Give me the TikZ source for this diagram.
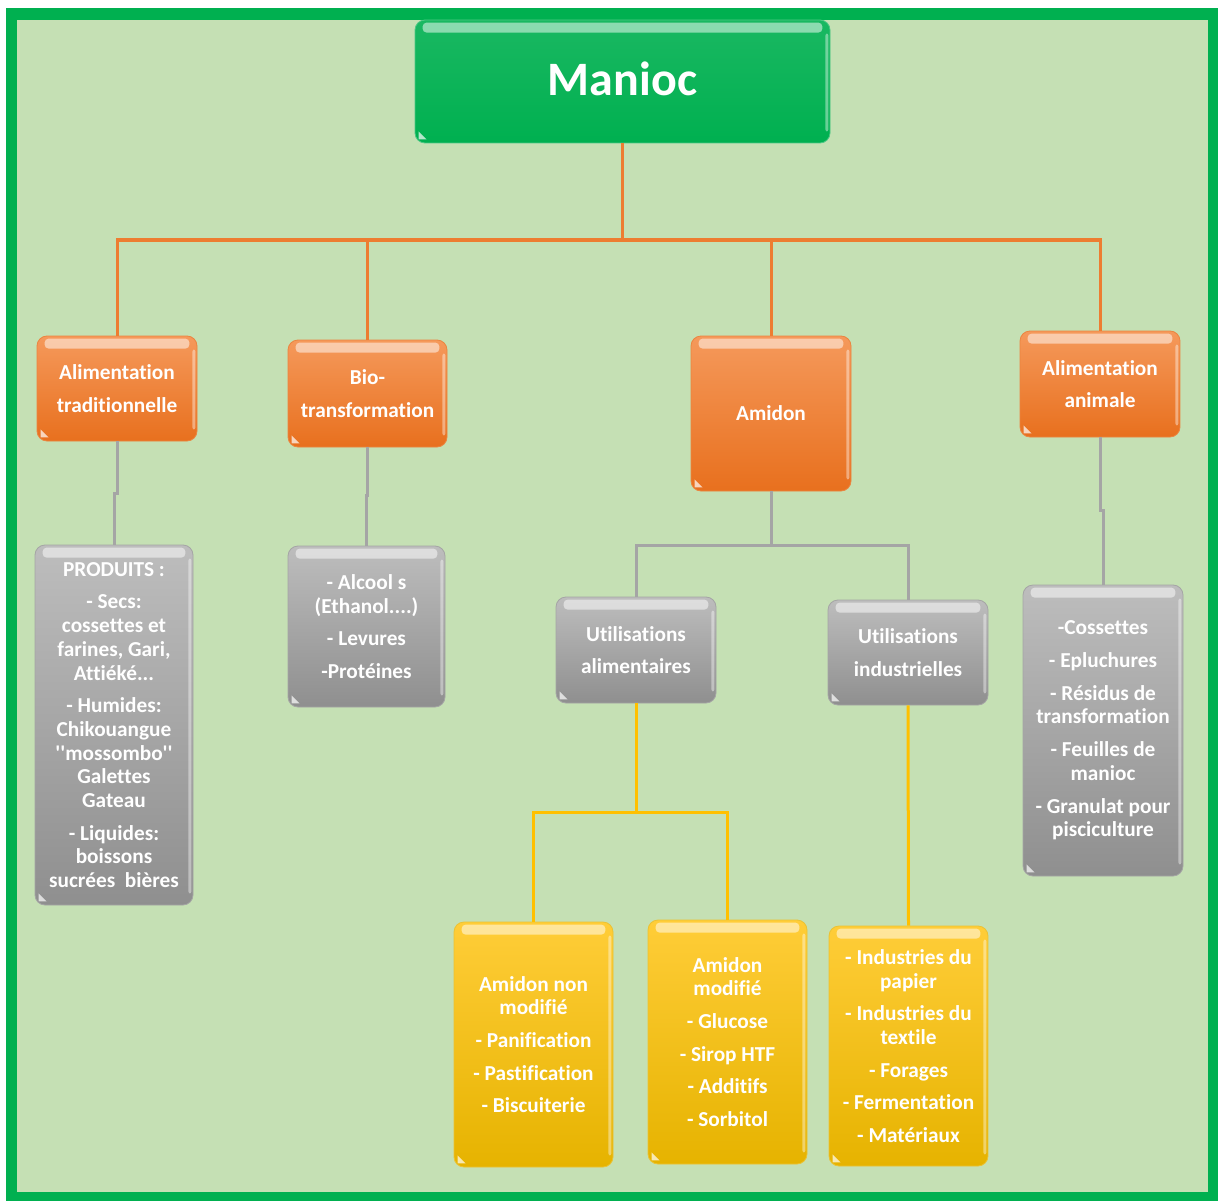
\documentclass[tikz,border=0pt]{standalone}
\usepackage{fontspec}
\setmainfont{Carlito}[RawFeature={-liga;-calt;-clig;-dlig}]
\usetikzlibrary{calc}
\definecolor{frameG}{HTML}{00B050}
\definecolor{innerG}{HTML}{C5E0B4}
\definecolor{orTop}{HTML}{F5995B}
\definecolor{orBot}{HTML}{E8701E}
\definecolor{grTop}{HTML}{BDBDBD}
\definecolor{grBot}{HTML}{8F8F8F}
\definecolor{yeTop}{HTML}{FFCD38}
\definecolor{yeBot}{HTML}{E6B300}
\definecolor{orLine}{HTML}{ED7D31}
\definecolor{grLine}{HTML}{A5A5A5}
\definecolor{yeLine}{HTML}{FFC000}
\newcommand\bxfont{\fontsize{21.3}{23.7}\selectfont\bfseries}
\newcommand\gloss[1]{%
  \fill[white,opacity=0.5,rounded corners=4pt]
    ([xshift=8pt,yshift=-3pt]#1.north west) rectangle ([xshift=-8pt,yshift=-13pt]#1.north east);
  \fill[white,opacity=0.7] ([xshift=4pt,yshift=12pt]#1.south west) -- ([xshift=4pt,yshift=4pt]#1.south west) -- ([xshift=12pt,yshift=4pt]#1.south west) -- cycle;
  \fill[white,opacity=0.4,rounded corners=2pt]
    ([xshift=-5pt,yshift=-14pt]#1.north east) rectangle ([xshift=-2pt,yshift=12pt]#1.south east);}
\tikzset{
  box/.style={rounded corners=10pt, align=center, text=white, font=\bxfont, inner sep=2pt, line width=0.8pt},
  obox/.style={box, top color=orTop, bottom color=orBot, draw=orBot!85!white},
  gbox/.style={box, top color=grTop, bottom color=grBot, draw=grBot!80!white},
  ybox/.style={box, top color=yeTop, bottom color=yeBot, draw=yeBot!80!white},
  mbox/.style={box, top color=frameG!90!white, bottom color=frameG, draw=frameG!70!white, font=\fontsize{48}{56}\selectfont\bfseries},
  oline/.style={draw=orLine, line width=3pt},
  gline/.style={draw=grLine, line width=3pt},
  yline/.style={draw=yeLine, line width=3pt},
}
\begin{document}
\begin{tikzpicture}[x=1pt,y=-1pt]
\useasboundingbox (0,0) rectangle (1218,1201);
\fill[white] (0,0) rectangle (1218,1201);
\fill[frameG] (6,8) rectangle (1218,1201);
\fill[innerG] (17,20) rectangle (1208,1192);

% nodes
\node[mbox, minimum width=415pt, minimum height=123pt] (man) at (622.5,81.5) {\raisebox{5pt}{Manioc}};

\node[obox, minimum width=160pt, minimum height=105pt] (at) at (117,388.5) {Alimentation\\[9pt]traditionnelle};
\node[obox, minimum width=159pt, minimum height=107pt] (bio) at (367.5,393.5) {Bio-\\[9pt]transformation};
\node[obox, minimum width=160pt, minimum height=155pt] (ami) at (771,413.5) {Amidon};
\node[obox, minimum width=160pt, minimum height=106pt] (aa) at (1100,384) {Alimentation\\[9pt]animale};

\node[gbox, minimum width=158pt, minimum height=360pt] (prod) at (114,725) {PRODUITS :\\[9pt]- Secs:\\cossettes et\\farines, Gari,\\Attiéké...\\[9pt]- Humides:\\Chikouangue\\\textquotesingle\textquotesingle mossombo\textquotesingle\textquotesingle\\Galettes\\Gateau\\[9pt]- Liquides:\\boissons\\sucrées\ \ bières};
\node[gbox, minimum width=157pt, minimum height=161pt] (alc) at (366.5,626.5) {- Alcool s\\(Ethanol....)\\[9pt]- Levures\\[9pt]-Protéines};
\node[gbox, minimum width=160pt, minimum height=106pt] (ua) at (636,650) {Utilisations\\[9pt]alimentaires};
\node[gbox, minimum width=160pt, minimum height=105pt] (ui) at (908,652.5) {Utilisations\\[9pt]industrielles};
\node[gbox, minimum width=160pt, minimum height=291pt] (coss) at (1103,730.5) {-Cossettes\\[9pt]- Epluchures\\[9pt]- Résidus de\\transformation\\[9pt]- Feuilles de\\manioc\\[9pt]- Granulat pour\\pisciculture};

\node[ybox, minimum width=159pt, minimum height=245pt] (anm) at (533.5,1044.5) {Amidon non\\modifié\\[9pt]- Panification\\[9pt]- Pastification\\[9pt]- Biscuiterie};
\node[ybox, minimum width=159pt, minimum height=244pt] (am) at (727.5,1042) {Amidon\\modifié\\[9pt]- Glucose\\[9pt]- Sirop HTF\\[9pt]- Additifs\\[9pt]- Sorbitol};
\node[ybox, minimum width=159pt, minimum height=240pt] (ind) at (908.5,1046) {- Industries du\\papier\\[9pt]- Industries du\\textile\\[9pt]- Forages\\[9pt]- Fermentation\\[9pt]- Matériaux};

\foreach \n in {man,at,bio,ami,aa,prod,alc,ua,ui,coss,anm,am,ind} {\gloss{\n}}

% connectors
\foreach \c in {at,bio,ami,aa} {
  \draw[oline] (man.south) -- (man.south |- 0,240) -| (\c.north);
}
\draw[gline] (at.south) -- (at.south |- 0,493) -| (prod.north);
\draw[gline] (bio.south) -- (bio.south |- 0,495) -| (alc.north);
\draw[gline] (ami.south) -- (ami.south |- 0,545) -| (ua.north);
\draw[gline] (ami.south) -- (ami.south |- 0,545) -| (ui.north);
\draw[gline] (aa.south) -- (aa.south |- 0,510) -| (coss.north);
\draw[yline] (ua.south) -- (ua.south |- 0,812) -| (anm.north);
\draw[yline] (ua.south) -- (ua.south |- 0,812) -| (am.north);
\draw[yline] (ui.south) -- (ind.north);
\end{tikzpicture}
\end{document}
